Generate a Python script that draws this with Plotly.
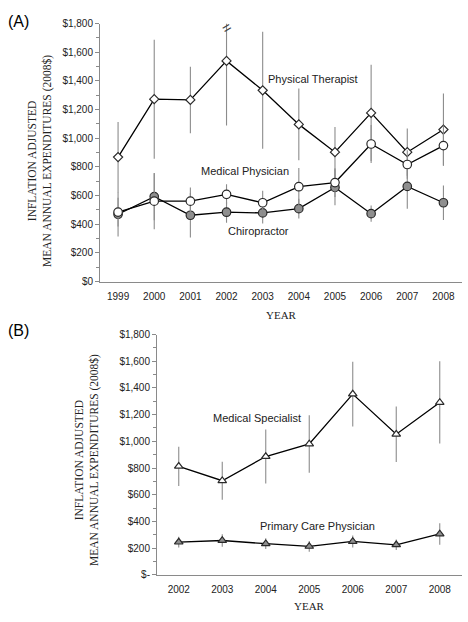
import plotly.graph_objects as go

# ---------------- Data ----------------
years_a = [1999, 2000, 2001, 2002, 2003, 2004, 2005, 2006, 2007, 2008]
pt_vals = [869, 1273, 1268, 1540, 1335, 1097, 903, 1177, 903, 1061]
pt_err = [245, 415, 232, 450, 408, 251, 176, 336, 165, 251]
mp_vals = [485, 561, 561, 609, 550, 662, 691, 960, 817, 949]
mp_err = [100, 195, 96, 71, 84, 130, 100, 132, 100, 140]
ch_vals = [470, 593, 463, 484, 479, 509, 657, 474, 664, 550]
ch_err = [155, 165, 155, 73, 73, 69, 125, 57, 155, 120]

years_b = [2002, 2003, 2004, 2005, 2006, 2007, 2008]
ms_vals = [813, 705, 886, 980, 1354, 1053, 1291]
ms_err = [147, 142, 202, 215, 243, 208, 308]
pc_vals = [245, 257, 233, 213, 250, 225, 306]
pc_err = [40, 47, 40, 40, 45, 40, 80]

y_tickvals = [0, 200, 400, 600, 800, 1000, 1200, 1400, 1600, 1800]
y_ticktext_a = ["$0", "$200", "$400", "$600", "$800", "$1,000", "$1,200", "$1,400", "$1,600", "$1,800"]
y_ticktext_b = ["$-", "$200", "$400", "$600", "$800", "$1,000", "$1,200", "$1,400", "$1,600", "$1,800"]

# ---------------- Styles ----------------
SANS = "Liberation Sans, Arial, sans-serif"
SERIF = "Liberation Serif, Times New Roman, serif"
AXIS_COL = "#8a8a8a"
ERR_COL = "#8c8c8c"
EDGE = "#2a2a2a"
GRAY_FILL = "#8f8f8f"


def err(vals):
    return dict(type="data", array=vals, visible=True, color=ERR_COL, thickness=1.1, width=0)


fig = go.Figure()

# Panel A
fig.add_trace(go.Scatter(x=years_a, y=pt_vals, error_y=err(pt_err), mode="lines+markers",
                         line=dict(color="black", width=1.3),
                         marker=dict(symbol="diamond", size=7, color="white", line=dict(color=EDGE, width=1.2)),
                         xaxis="x", yaxis="y", showlegend=False))
fig.add_trace(go.Scatter(x=years_a, y=ch_vals, error_y=err(ch_err), mode="lines+markers",
                         line=dict(color="black", width=1.3),
                         marker=dict(symbol="circle", size=8.5, color=GRAY_FILL, line=dict(color=EDGE, width=1.2)),
                         xaxis="x", yaxis="y", showlegend=False))
fig.add_trace(go.Scatter(x=years_a, y=mp_vals, error_y=err(mp_err), mode="lines+markers",
                         line=dict(color="black", width=1.3),
                         marker=dict(symbol="circle", size=8.5, color="white", line=dict(color=EDGE, width=1.2)),
                         xaxis="x", yaxis="y", showlegend=False))

# Panel B
fig.add_trace(go.Scatter(x=years_b, y=ms_vals, error_y=err(ms_err), mode="lines+markers",
                         line=dict(color="black", width=1.3),
                         marker=dict(symbol="triangle-up", size=7.5, color="white", line=dict(color=EDGE, width=1.2)),
                         xaxis="x2", yaxis="y2", showlegend=False))
fig.add_trace(go.Scatter(x=years_b, y=pc_vals, error_y=err(pc_err), mode="lines+markers",
                         line=dict(color="black", width=1.3),
                         marker=dict(symbol="triangle-up", size=7.5, color=GRAY_FILL, line=dict(color=EDGE, width=1.2)),
                         xaxis="x2", yaxis="y2", showlegend=False))

W, H = 468, 622


def px_x(p):
    return p / W


def px_y(p):
    return 1 - p / H


xcommon = dict(showgrid=False, zeroline=False, showline=True, linecolor=AXIS_COL, linewidth=1,
               ticks="", tickfont=dict(family=SANS, size=10, color="#222"), ticklabelstandoff=5)
ycommon = dict(showgrid=False, zeroline=False, showline=True, linecolor=AXIS_COL, linewidth=1,
               ticks="outside", ticklen=4, tickcolor=AXIS_COL, tickwidth=1,
               minor=dict(dtick=100, ticks="outside", ticklen=3, tickcolor=AXIS_COL, tickwidth=1, tick0=0),
               tickvals=y_tickvals, range=[0, 1800],
               tickfont=dict(family=SANS, size=10, color="#222"))

fig.update_layout(
    width=W, height=H,
    margin=dict(l=0, r=0, t=0, b=0),
    paper_bgcolor="white", plot_bgcolor="white",
    xaxis=dict(domain=[px_x(100), px_x(461.5)], range=[1998.5, 2008.5], tickvals=years_a,
               anchor="y", **xcommon),
    yaxis=dict(domain=[px_y(281), px_y(18)], ticktext=y_ticktext_a, anchor="x", **ycommon),
    xaxis2=dict(domain=[px_x(157), px_x(461.5)], range=[2001.5, 2008.5], tickvals=years_b,
                anchor="y2", **xcommon),
    yaxis2=dict(domain=[px_y(580), px_y(335)], ticktext=y_ticktext_b, anchor="x2", **ycommon),
)

C = dict(xanchor="center", yanchor="middle", showarrow=False)
ann = []
# panel letters
ann.append(dict(text="(A)", x=px_x(18), y=px_y(16), xref="paper", yref="paper",
                font=dict(family=SANS, size=16, color="black"), **C))
ann.append(dict(text="(B)", x=px_x(18), y=px_y(331), xref="paper", yref="paper",
                font=dict(family=SANS, size=16, color="black"), **C))
# y axis titles
ytitle = "INFLATION ADJUSTED<br>MEAN ANNUAL EXPENDITURES (2008$)"
ann.append(dict(text=ytitle, x=px_x(40), y=px_y(158), xref="paper", yref="paper",
                textangle=-90, font=dict(family=SERIF, size=11.5, color="#222"), **C))
ann.append(dict(text=ytitle, x=px_x(87), y=px_y(463), xref="paper", yref="paper",
                textangle=-90, font=dict(family=SERIF, size=11.5, color="#222"), **C))
# x axis titles
ann.append(dict(text="YEAR", x=px_x(281), y=px_y(315), xref="paper", yref="paper",
                font=dict(family=SERIF, size=11, color="#222"), **C))
ann.append(dict(text="YEAR", x=px_x(309), y=px_y(612), xref="paper", yref="paper",
                font=dict(family=SERIF, size=11, color="#222"), **C))
# series labels
lab = dict(family=SANS, size=11, color="#222")
ann.append(dict(text="Physical Therapist", x=2004.39, y=1417, xref="x", yref="y", font=lab, **C))
ann.append(dict(text="Medical Physician", x=2002.5, y=773, xref="x", yref="y", font=lab, **C))
ann.append(dict(text="Chiropractor", x=2002.89, y=356, xref="x", yref="y", font=lab, **C))
ann.append(dict(text="Medical Specialist", x=2003.81, y=1175, xref="x2", yref="y2", font=lab, **C))
ann.append(dict(text="Primary Care Physician", x=2005.18, y=362, xref="x2", yref="y2", font=lab, **C))
# axis break mark on the truncated 2002 error bar
ann.append(dict(text="=", x=2002, y=1775, xref="x", yref="y", textangle=-30,
                font=dict(family=SANS, size=15, color="#444"), **C))

fig.update_layout(annotations=ann)

fig.write_html("out.html", config={"displayModeBar": False},
               post_script="document.body.style.margin='0';")
